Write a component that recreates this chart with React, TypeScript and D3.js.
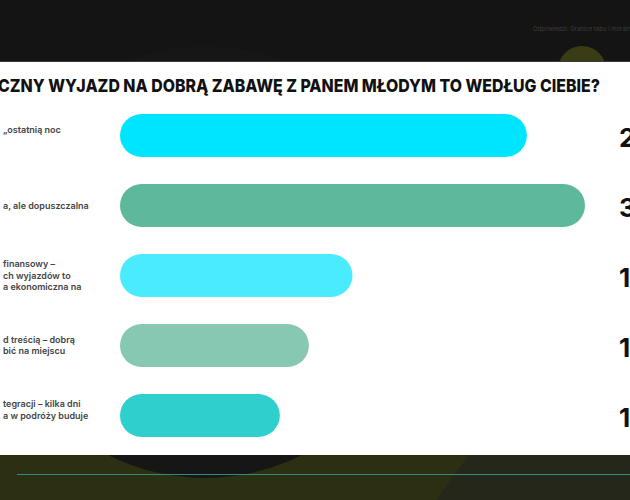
import React, { useEffect, useRef } from "react";
import * as d3 from "d3";

// poll answers (left part of each label is cut off by the screenshot)
const labelLines: string[][] = [
  ["„ostatnią noc", ""],
  ["a, ale dopuszczalna"],
  ["finansowy –", "ch wyjazdów to", "a ekonomiczna na"],
  ["d treścią – dobrą", "bić na miejscu"],
  ["tegracji – kilka dni", "a w podróży buduje", ""],
];
const percents = [28, 32, 16, 13, 11];
const barColors = ["#00e5ff", "#5eb89b", "#4aebff", "#86c8b1", "#2ecfcd"];
const title = "CZNY WYJAZD NA DOBRĄ ZABAWĘ Z PANEM MŁODYM TO WEDŁUG CIEBIE?";
const headerNote = "Odpowiedzi: Granice tabu i moralności";

const W = 630;
const H = 500;

const App: React.FC = () => {
  const svgRef = useRef<SVGSVGElement>(null);

  useEffect(() => {
    if (!svgRef.current) return;
    const svg = d3.select(svgRef.current);
    svg.selectAll("*").remove();

    // BACKGROUND - dark header
    svg.append("rect").attr("width", W).attr("height", H).attr("fill", "#141414");
    svg
      .append("text")
      .attr("x", 533)
      .attr("y", 31)
      .style("font-family", "Inter")
      .style("font-size", "6px")
      .attr("fill", "#3c3c3c")
      .text(headerNote);
    svg.append("circle").attr("cx", 582).attr("cy", 70).attr("r", 24).attr("fill", "#3a3c13");

    // bottom olive band
    const bottom = svg.append("g");
    bottom.append("rect").attr("x", 0).attr("y", 455).attr("width", W).attr("height", 45).attr("fill", "#2c2f11");
    bottom.append("circle").attr("cx", 760).attr("cy", 700).attr("r", 380).attr("fill", "#25271a");
    bottom.append("circle").attr("cx", 205).attr("cy", 262).attr("r", 216).attr("fill", "#161616");
    bottom
      .append("line")
      .attr("x1", 17)
      .attr("x2", W)
      .attr("y1", 474.5)
      .attr("y2", 474.5)
      .attr("stroke", "#2b8f80")
      .attr("stroke-width", 1);

    // WHITE CARD
    svg.append("rect").attr("x", 0).attr("y", 61).attr("width", W).attr("height", 1).attr("fill", "#3a3a3a");
    svg.append("rect").attr("x", 0).attr("y", 62).attr("width", W).attr("height", 393).attr("fill", "#ffffff");

    // TITLE
    svg
      .append("text")
      .attr("x", -2)
      .attr("y", 92)
      .attr("textLength", 602)
      .attr("lengthAdjust", "spacingAndGlyphs")
      .style("font-family", "Inter")
      .style("font-weight", 800)
      .style("font-size", "18px")
      .attr("fill", "#111111")
      .text(title);

    // SCALES
    const barLeft = 120;
    const x = d3
      .scaleLinear()
      .domain([0, d3.max(percents) || 1])
      .range([0, 465]);

    const y = d3
      .scaleBand<number>()
      .domain(percents.map((_, i) => i))
      .range([100.5, 450.5])
      .paddingInner(27 / 70)
      .paddingOuter(27 / 140);

    const rows = svg
      .selectAll("g.row")
      .data(percents)
      .enter()
      .append("g")
      .attr("class", "row");

    // BARS
    rows
      .append("rect")
      .attr("x", barLeft)
      .attr("y", (_, i) => y(i)!)
      .attr("width", d => x(d))
      .attr("height", y.bandwidth())
      .attr("rx", y.bandwidth() / 2)
      .attr("fill", (_, i) => barColors[i]);

    // VALUES
    rows
      .append("text")
      .attr("x", 619)
      .attr("y", (_, i) => y(i)! + y.bandwidth() / 2 + 2)
      .attr("dy", "0.36em")
      .style("font-family", "Inter")
      .style("font-weight", 700)
      .style("font-size", "26px")
      .attr("fill", "#111111")
      .text(d => `${d}%`);

    // LABELS
    const lh = 11.5;
    rows.each(function (_, i) {
      const lines = labelLines[i];
      const cy = y(i)! + y.bandwidth() / 2;
      d3.select(this)
        .selectAll("text.lbl")
        .data(lines)
        .enter()
        .append("text")
        .attr("class", "lbl")
        .attr("x", 3)
        .attr("y", (_, j) => cy + (j - (lines.length - 1) / 2) * lh)
        .attr("dy", "0.35em")
        .style("font-family", "Inter")
        .style("font-weight", 600)
        .style("font-size", "9px")
        .attr("fill", "#444444")
        .text(t => t);
    });
  }, []);

  return (
    <svg
      ref={svgRef}
      width={W}
      height={H}
      style={{ position: "fixed", left: 0, top: 0, display: "block" }}
    ></svg>
  );
};

export default App;
